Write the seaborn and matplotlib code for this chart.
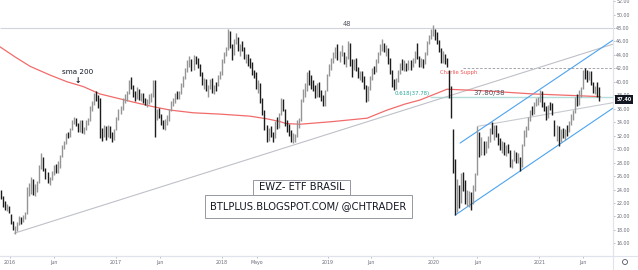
import numpy as np
import pandas as pd
import matplotlib
matplotlib.use("Agg")
import matplotlib.pyplot as plt
from matplotlib.patches import Rectangle, Circle
from matplotlib.lines import Line2D
import seaborn as sns

# ---------------- data (weekly OHLC bars, EWZ) ----------------
first_week = "2015-11-30"
first_open = 23.4

bar_high = [
    24.0, 23.0, 22.3, 21.8, 21.6,
    # 2016
    20.4, 19.3, 18.6, 19.2, 20.0, 19.9, 20.2, 20.6, 24.3, 25.0, 25.8, 25.6,
    24.8, 25.2, 27.6, 29.4, 28.8, 27.2, 26.6, 25.9, 26.8, 27.6, 27.8, 28.3, 29.2,
    30.6, 31.2, 32.4, 32.6, 33.2, 34.4, 34.8, 34.6, 33.9, 34.3, 34.4, 33.3, 34.4, 34.6,
    36.4, 37.2, 38.3, 38.6, 38.0, 37.6, 33.2, 33.6, 33.4, 33.6, 33.4, 32.5, 33.0,
    # 2017
    34.8, 35.9, 36.4, 37.6, 38.2, 38.6, 40.3, 40.7, 39.6, 38.6, 39.2, 39.0, 38.4,
    38.4, 37.6, 37.4, 38.2, 38.3, 40.3, 40.2, 36.0, 36.1, 35.2, 34.3, 34.5, 35.0,
    35.9, 37.2, 37.6, 38.3, 38.6, 38.6, 39.8, 40.8, 42.0, 43.2, 43.8, 43.4, 44.0,
    43.9, 43.6, 42.7, 41.4, 40.6, 40.4, 39.6, 40.4, 40.6, 39.6, 40.0, 41.0, 41.6,
    # 2018
    43.4, 44.4, 45.2, 47.9, 47.6, 45.6, 46.4, 47.3, 46.6, 45.6, 46.0, 45.2, 44.2,
    44.2, 43.6, 43.0, 41.8, 41.4, 40.2, 39.8, 37.6, 35.8, 33.6, 33.2, 33.4, 32.6,
    34.2, 34.8, 35.4, 37.6, 37.4, 36.0, 34.4, 33.8, 32.8, 32.4, 32.2, 34.3, 34.6,
    37.4, 39.0, 39.8, 41.4, 41.8, 41.0, 40.2, 39.6, 39.8, 40.0, 38.8, 38.0, 38.8,
    # 2019
    41.2, 42.6, 43.6, 44.4, 45.2, 45.6, 44.6, 45.4, 44.4, 43.8, 46.0, 45.8, 43.4,
    43.4, 43.6, 42.2, 41.6, 41.6, 40.8, 39.6, 39.4, 40.8, 42.0, 42.4, 43.4, 44.4,
    45.6, 46.3, 45.8, 45.4, 45.0, 43.6, 41.8, 40.4, 40.6, 41.8, 42.8, 43.4, 43.2,
    42.8, 43.2, 43.2, 43.6, 44.6, 45.7, 43.8, 43.6, 43.4, 44.4, 46.0, 47.0, 47.8,
    # 2020
    48.5, 47.8, 47.4, 46.2, 45.0, 44.6, 44.2, 43.6, 41.8, 39.4, 33.0, 28.5, 25.6,
    24.6, 26.4, 26.6, 25.4, 24.0, 23.8, 23.6, 24.6, 26.4, 33.4, 32.6, 31.8, 31.2,
    31.2, 32.0, 33.2, 34.0, 33.6, 33.6, 32.4, 31.6, 31.2, 31.0, 30.6, 30.8, 29.8,
    28.6, 29.8, 29.6, 29.4, 28.8, 30.8, 32.8, 33.4, 34.8, 35.8, 36.4, 37.0, 37.6, 37.8,
    # 2021
    38.8, 38.6, 37.0, 36.4, 36.6, 37.0, 36.8, 34.4, 33.6, 33.4, 33.0, 33.2,
    33.0, 33.6, 34.2, 35.2, 35.8, 37.8, 38.2, 38.8, 39.2, 41.8, 42.0, 41.8, 41.6,
    41.6, 40.0, 39.4, 40.0, 39.2,
]

bar_low = [
    22.6, 21.4, 20.9, 20.8, 20.5,
    # 2016
    18.9, 18.0, 17.4, 17.9, 18.8, 18.9, 19.2, 19.6, 20.4, 23.0, 23.4, 23.2,
    23.1, 23.6, 25.0, 27.0, 26.8, 25.6, 25.0, 24.6, 25.4, 26.2, 26.5, 26.4, 27.2,
    28.9, 30.0, 30.8, 31.6, 31.8, 32.8, 33.8, 33.4, 32.5, 32.6, 32.4, 32.2, 32.9, 33.6,
    34.2, 35.6, 36.6, 37.2, 36.1, 31.6, 31.2, 31.8, 31.4, 31.8, 31.6, 31.1, 31.4,
    # 2017
    32.8, 34.4, 35.2, 35.8, 36.9, 37.2, 38.2, 39.0, 37.8, 37.2, 37.4, 37.3, 37.2,
    36.9, 36.5, 36.3, 36.7, 37.0, 37.8, 31.8, 34.4, 34.6, 33.6, 33.0, 32.8, 33.6,
    34.2, 35.6, 36.4, 36.8, 37.4, 37.4, 38.2, 39.2, 40.4, 41.4, 42.2, 41.6, 41.8,
    42.6, 42.0, 40.8, 39.6, 38.9, 38.6, 37.8, 39.0, 38.4, 38.2, 38.6, 39.4, 40.4,
    # 2018
    41.0, 42.8, 43.8, 44.8, 45.0, 43.2, 44.0, 45.6, 44.6, 43.8, 44.6, 43.4, 42.8,
    42.4, 42.0, 41.0, 40.6, 39.0, 38.4, 36.9, 35.0, 32.8, 31.0, 31.2, 31.8, 31.1,
    31.6, 33.0, 33.2, 35.0, 35.6, 33.4, 32.6, 32.0, 31.0, 30.9, 31.0, 31.8, 33.2,
    34.2, 37.0, 37.8, 38.6, 39.6, 39.0, 38.6, 37.6, 37.8, 37.8, 37.2, 36.4, 36.4,
    # 2019
    38.6, 40.8, 41.8, 42.8, 43.6, 43.2, 43.0, 43.8, 42.6, 42.2, 43.4, 42.4, 40.7,
    41.8, 41.6, 40.6, 40.2, 40.0, 39.0, 37.0, 37.2, 38.8, 40.2, 41.2, 41.4, 42.8,
    44.0, 44.6, 44.4, 43.8, 42.6, 41.2, 39.2, 38.8, 39.0, 40.0, 41.2, 41.8, 41.6,
    41.6, 41.8, 41.8, 42.2, 42.8, 43.4, 42.2, 42.2, 42.0, 42.6, 44.0, 45.6, 46.4,
    # 2020
    46.8, 46.2, 45.6, 44.4, 42.8, 42.8, 42.6, 42.2, 37.6, 34.6, 26.4, 20.2, 20.6,
    21.2, 22.0, 23.8, 21.8, 21.6, 21.4, 21.0, 21.8, 23.8, 26.2, 28.8, 29.2, 29.2,
    29.4, 30.2, 31.0, 32.2, 31.4, 31.8, 30.6, 29.8, 29.4, 29.2, 29.0, 29.4, 27.4,
    27.2, 28.2, 28.0, 28.0, 26.7, 27.4, 30.4, 31.8, 32.8, 34.2, 35.0, 35.2, 36.4, 36.6,
    # 2021
    37.0, 36.2, 35.6, 34.4, 34.6, 35.8, 35.0, 32.0, 31.2, 30.5, 31.0, 31.6,
    31.4, 32.0, 32.6, 33.6, 34.4, 35.4, 36.4, 36.6, 37.8, 39.0, 40.4, 40.0, 40.2,
    39.6, 38.4, 38.2, 37.8, 37.2,
]

bar_close = [
    22.9, 21.6, 21.1, 21.4, 20.6,
    # 2016
    19.0, 18.2, 18.3, 19.0, 19.8, 19.3, 19.9, 20.3, 24.0, 24.5, 25.3, 23.6,
    24.5, 24.8, 27.4, 28.2, 27.0, 25.8, 25.4, 25.5, 26.6, 27.3, 26.7, 28.0, 28.8,
    30.4, 31.0, 32.2, 32.0, 33.0, 34.2, 34.3, 33.6, 32.8, 34.1, 32.6, 33.0, 34.2, 34.3,
    36.2, 36.9, 38.0, 37.6, 36.8, 32.2, 32.0, 33.2, 31.9, 33.2, 32.0, 31.8, 32.9,
    # 2017
    34.6, 35.7, 36.0, 37.4, 37.6, 38.4, 39.8, 39.2, 38.0, 37.5, 38.9, 37.6, 38.0,
    37.1, 36.8, 37.0, 37.8, 37.9, 40.0, 35.4, 35.6, 34.8, 34.0, 33.6, 33.9, 34.8,
    35.6, 37.0, 37.2, 38.1, 38.0, 38.4, 39.5, 40.6, 41.8, 42.6, 43.2, 41.9, 43.6,
    43.0, 42.5, 41.0, 39.8, 40.3, 38.8, 39.2, 40.2, 38.6, 39.4, 38.8, 40.8, 41.2,
    # 2018
    43.2, 44.2, 44.8, 47.4, 45.4, 44.2, 46.0, 46.8, 45.0, 45.2, 45.0, 43.6, 43.8,
    43.0, 42.4, 41.3, 41.2, 39.3, 39.6, 37.2, 35.4, 33.4, 31.6, 32.6, 32.0, 31.8,
    34.0, 33.4, 35.1, 37.0, 35.9, 33.8, 33.0, 32.4, 31.3, 31.6, 31.9, 34.0, 34.4,
    37.0, 38.6, 39.4, 41.0, 40.6, 39.4, 39.0, 37.9, 39.5, 38.0, 37.6, 36.7, 38.6,
    # 2019
    41.0, 42.3, 43.2, 44.0, 44.8, 43.6, 44.2, 44.2, 43.0, 43.4, 45.6, 42.8, 42.2,
    42.9, 41.8, 41.0, 41.2, 40.6, 39.2, 37.4, 39.0, 40.4, 41.8, 41.6, 43.2, 44.2,
    45.4, 45.6, 44.6, 45.0, 43.0, 41.4, 39.6, 39.0, 40.2, 41.6, 42.6, 42.0, 42.2,
    42.0, 42.8, 42.6, 43.2, 44.2, 43.6, 42.6, 43.0, 42.8, 44.2, 45.8, 46.6, 47.4,
    # 2020
    47.4, 46.6, 45.8, 44.6, 43.0, 44.2, 42.8, 42.4, 38.0, 35.0, 29.2, 21.0, 24.4,
    21.6, 25.8, 24.6, 22.2, 22.4, 23.2, 21.6, 24.2, 26.0, 32.0, 30.0, 30.8, 29.6,
    30.8, 31.6, 32.8, 32.6, 33.2, 32.0, 31.0, 30.2, 30.6, 29.6, 30.2, 29.8, 27.6,
    28.4, 29.4, 28.4, 28.8, 27.0, 30.6, 32.4, 33.0, 34.6, 35.6, 35.4, 36.8, 37.2, 37.4,
    # 2021
    38.4, 36.6, 36.2, 34.8, 36.4, 36.2, 35.4, 32.6, 33.0, 31.2, 32.6, 32.0,
    32.8, 32.4, 34.0, 35.0, 35.4, 37.6, 37.2, 38.6, 39.0, 41.6, 40.8, 40.4, 41.2,
    39.8, 38.8, 39.0, 38.2, 37.4,
]

# 200-period simple moving average
sma_dates = ["2015-11-27", "2016-01-18", "2016-03-10", "2016-05-18", "2016-07-16",
             "2016-09-09", "2016-11-06", "2017-02-28", "2017-05-09", "2017-07-07",
             "2017-09-24", "2017-12-27", "2018-04-08", "2018-06-06", "2018-07-20",
             "2018-08-10", "2018-09-28", "2019-01-20", "2019-05-17", "2019-07-25",
             "2019-09-25", "2019-11-16", "2020-02-17", "2020-06-10", "2020-12-10",
             "2021-04-08", "2021-07-30"]
sma_values = [45.2, 43.7, 42.3, 41.0, 40.0, 39.3, 38.2, 37.0, 36.3, 35.8, 35.4, 35.2,
              34.9, 34.5, 34.1, 33.8, 33.7, 34.1, 34.6, 35.8, 36.7, 37.3, 38.9, 38.7,
              38.2, 38.0, 37.8]

# drawn trend lines (start / end)
trend_long_dates = ["2016-01-15", "2021-09-12"]
trend_long_prices = [17.5, 45.6]
trend_short_dates = ["2020-06-03", "2021-09-12"]
trend_short_prices = [33.4, 36.9]
channel_up_dates = ["2020-04-02", "2021-09-12"]
channel_up_prices = [30.9, 46.2]
channel_low_dates = ["2020-03-16", "2021-09-12"]
channel_low_prices = [20.2, 36.1]

level_top = 48.0
level_resist = 42.0
resist_start = "2020-04-13"
level_fib = 37.78
fib_start = "2019-12-21"
last_price = 37.40

tick_dates = ["2016-01-01", "2016-06-01", "2017-01-01", "2017-06-01", "2018-01-01",
              "2018-05-01", "2019-01-01", "2019-06-01", "2020-01-01", "2020-06-01",
              "2021-01-01", "2021-06-01"]
tick_labels = ["2016", "Jun", "2017", "Jun", "2018", "Mayo", "2019", "Jun", "2020",
               "Jun", "2021", "Jun"]
price_ticks = list(range(16, 54, 2))

# ---------------- plot ----------------
sns.set_theme(style="white")
plt.rcParams["font.family"] = ["DejaVu Sans"]

W, H = 638, 270
fig = plt.figure(figsize=(W / 100, H / 100), dpi=100)
fig.patch.set_facecolor("white")
ax = fig.add_axes([0, 14 / H, 613 / W, 256 / H])
ax.set_facecolor("white")

x_left = pd.Timestamp("2015-11-27")
x_right = pd.Timestamp("2021-09-12")

dates = pd.date_range(first_week, periods=len(bar_close), freq="W-MON")
hi = np.array(bar_high)
lo = np.array(bar_low)
cl = np.array(bar_close)
op = np.concatenate([[first_open], cl[:-1]])
up = cl >= op

# horizontal reference lines
ax.hlines(level_top, x_left, x_right, color="#d1d4dc", lw=0.8, zorder=1)
ax.hlines(level_fib, pd.Timestamp(fib_start), x_right, color="#b2dfdb", lw=1.0, zorder=1)
ax.hlines(level_resist, pd.Timestamp(resist_start), x_right, color="#9598a1",
          lw=0.6, linestyles=(0, (3, 2)), zorder=1)

# trend lines / channel
for d, p, c in [(trend_long_dates, trend_long_prices, "#bfc1c8"),
                (trend_short_dates, trend_short_prices, "#c8cad1"),
                (channel_up_dates, channel_up_prices, "#4ca3f0"),
                (channel_low_dates, channel_low_prices, "#4ca3f0")]:
    ax.plot(pd.to_datetime(d), p, color=c, lw=0.8, zorder=2)

# SMA 200
sns.lineplot(x=pd.to_datetime(sma_dates), y=sma_values, ax=ax, color="#f26b6b",
             lw=0.9, zorder=3)

# OHLC bars
ax.vlines(dates[up], lo[up], hi[up], color="#959595", lw=1.0, zorder=4)
ax.vlines(dates[~up], lo[~up], hi[~up], color="#1c1c1c", lw=1.0, zorder=5)

ax.set_xlim(x_left, x_right)
ax.set_ylim(14.12, 52.16)

# axes styling
ax.yaxis.tick_right()
ax.set_yticks(price_ticks)
ax.set_yticklabels([f"{v:.2f}" for v in price_ticks])
ax.set_xticks(pd.to_datetime(tick_dates))
ax.set_xticklabels(tick_labels)
ax.tick_params(axis="y", right=True, left=False, length=1.5, width=0.6,
               color="#b2b5be", labelsize=3.4, labelcolor="#6a6d78", pad=0.8)
ax.tick_params(axis="x", bottom=True, length=1.5, width=0.6, color="#b2b5be",
               labelsize=3.4, labelcolor="#6a6d78", pad=1.3)
ax.set_xlabel("")
ax.set_ylabel("")
for s in ["top", "left"]:
    ax.spines[s].set_visible(False)
for s in ["right", "bottom"]:
    ax.spines[s].set_color("#e0e3eb")
    ax.spines[s].set_linewidth(0.8)
ax.grid(False)

# annotations
ax.text(pd.Timestamp("2019-03-09"), 48.6, "48", fontsize=4.8, color="#50535e",
        ha="center", va="center")
ax.text(pd.Timestamp("2016-08-22"), 41.46, "sma 200", fontsize=5.2, color="#131722",
        ha="center", va="center")
ax.text(pd.Timestamp("2016-08-22"), 40.2, "↓", fontsize=5.5, color="#131722",
        ha="center", va="center", fontweight="bold")
ax.text(pd.Timestamp("2020-01-24"), 41.46, "Charlie Supph", fontsize=3.8,
        color="#ef5350", ha="left", va="center")
ax.text(pd.Timestamp(fib_start), 38.34, "0.618(37.78)", fontsize=3.9,
        color="#26a69a", ha="right", va="center")
ax.text(pd.Timestamp("2020-05-17"), 38.27, "37.80/38", fontsize=5.0,
        color="#50535e", ha="left", va="center")


def fx(px):
    return px / W


def fy(py):
    return 1 - py / H


# text boxes
for (x0, y0, x1, y1, label) in [(253, 180, 350, 195, "EWZ- ETF BRASIL"),
                                (205, 195, 412, 218, "BTLPLUS.BLOGSPOT.COM/ @CHTRADER")]:
    fig.patches.append(Rectangle((fx(x0), fy(y1)), fx(x1) - fx(x0), fy(y0) - fy(y1),
                                 transform=fig.transFigure, facecolor="white",
                                 edgecolor="#9598a1", lw=0.7, zorder=10))
    fig.text(fx((x0 + x1) / 2), fy((y0 + y1) / 2), label, fontsize=7.2,
             color="#131722", ha="center", va="center", zorder=11)

# separators
fig.add_artist(Line2D([fx(613), fx(613)], [0, 1], color="#e0e3eb", lw=0.8))
fig.add_artist(Line2D([0, 1], [fy(256), fy(256)], color="#e0e3eb", lw=0.8))

# last price label
fig.patches.append(Rectangle((fx(615), fy(103.5)), fx(633) - fx(615), fy(95) - fy(103.5),
                             transform=fig.transFigure, facecolor="#131722",
                             edgecolor="none", zorder=12))
fig.text(fx(624), fy(99.3), f"{last_price:.2f}", fontsize=3.4, color="white",
         fontweight="bold", ha="center", va="center", zorder=13)

# settings gear
fig.patches.append(Circle((625 / 100, (H - 262) / 100), 0.025,
                          transform=fig.dpi_scale_trans, facecolor="none",
                          edgecolor="#50535e", lw=0.6))

fig.savefig("out.png", dpi=100, facecolor="white")
